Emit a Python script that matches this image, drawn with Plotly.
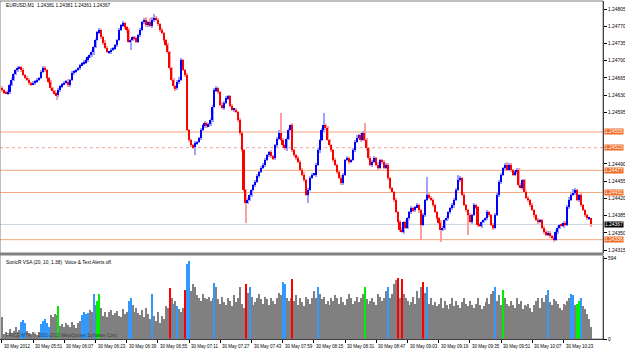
import plotly.graph_objects as go

# ---------------- data (prices in points above 1.24000) ----------------
header_text = "EURUSD,M1  1.24381 1.24381 1.24361 1.24367"
indicator_text = "SonicR VSA (20, 10, 1.38)  Voice & Text Alerts off."
footer_text = "PRICE MT4, \u00a9 2001-2012 MetaQuotes Software Corp."

first_open_pts = 645
close_pts = [
    640, 636, 634, 636, 650, 661, 673, 681, 685, 687,
    681, 671, 665, 661, 655, 652, 655, 657, 661, 665,
    677, 685, 681, 665, 657, 644, 638, 634, 630, 640,
    648, 652, 655, 657, 650, 661, 675, 677, 681, 685,
    691, 695, 697, 701, 707, 711, 717, 728, 742, 758,
    762, 748, 736, 726, 717, 717, 722, 724, 732, 742,
    762, 772, 776, 768, 762, 738, 742, 748, 746, 738,
    752, 762, 778, 783, 772, 778, 770, 783, 787, 783,
    774, 762, 756, 742, 732, 717, 685, 661, 648, 644,
    657, 661, 701, 681, 671, 559, 539, 528, 524, 532,
    534, 543, 559, 569, 573, 567, 571, 579, 606, 640,
    644, 636, 610, 604, 614, 624, 628, 608, 600, 600,
    596, 579, 553, 518, 437, 411, 417, 427, 437, 447,
    453, 466, 474, 482, 488, 498, 508, 514, 506, 502,
    528, 541, 553, 539, 528, 522, 541, 559, 569, 518,
    508, 502, 494, 478, 468, 457, 427, 437, 462, 468,
    468, 488, 518, 539, 559, 569, 563, 539, 528, 518,
    498, 488, 474, 462, 451, 468, 498, 502, 494, 498,
    518, 535, 543, 549, 539, 553, 539, 522, 502, 488,
    494, 502, 488, 482, 498, 494, 482, 488, 462, 441,
    433, 417, 392, 372, 356, 352, 372, 360, 380, 392,
    400, 396, 402, 406, 396, 366, 386, 417, 427, 421,
    417, 406, 392, 380, 370, 356, 360, 376, 380, 392,
    400, 406, 417, 437, 457, 462, 427, 406, 396, 386,
    372, 386, 406, 402, 366, 364, 372, 376, 380, 392,
    386, 366, 360, 386, 427, 453, 468, 482, 488, 478,
    488, 478, 468, 474, 478, 447, 441, 457, 433, 421,
    417, 406, 396, 386, 376, 372, 376, 360, 352, 346,
    350, 344, 340, 335, 352, 360, 366, 364, 370, 366,
    402, 417, 427, 431, 437, 417, 427, 406, 396, 386,
    380, 381, 367,
]
hi_ext = [
    4, 3, 2, 5, 3, 4, 2, 3, 4, 3,  3, 5, 2, 4, 3, 2, 4, 3, 3, 2,
    3, 4, 5, 3, 2, 4, 3, 2, 3, 4,  3, 2, 4, 3, 5, 2, 3, 4, 2, 3,
    3, 2, 4, 3, 2, 3, 5, 2, 4, 3,  4, 3, 2, 5, 3, 2, 4, 3, 2, 3,
    4, 3, 5, 2, 3, 4, 2, 3, 3, 2,  3, 4, 2, 3, 5, 3, 8, 6, 8, 3,
    4, 3, 5, 2, 3, 4, 2, 3, 4, 3,  3, 5, 4, 3, 2, 4, 3, 2, 3, 4,
    3, 2, 4, 3, 5, 3, 2, 4, 3, 5,  4, 3, 2, 5, 3, 4, 2, 3, 4, 3,
    3, 2, 4, 3, 2, 3, 4, 2, 3, 3,  4, 3, 2, 4, 3, 5, 2, 3, 4, 3,
    3, 4, 6, 41, 3, 2, 4, 5, 3, 4,  3, 2, 4, 3, 3, 5, 2, 4, 3, 3,
    4, 3, 5, 2, 4, 25, 3, 4, 2, 3,  3, 4, 2, 3, 5, 3, 2, 4, 3, 3,
    4, 3, 5, 2, 3, 4, 20, 3, 2, 4,  3, 4, 2, 5, 3, 2, 4, 3, 3, 2,
    3, 2, 4, 3, 3, 5, 2, 4, 3, 3,  4, 3, 2, 5, 3, 3, 4, 2, 36, 3,
    3, 4, 2, 3, 3, 5, 3, 2, 4, 3,  3, 4, 3, 5, 10, 3, 2, 4, 3, 3,
    4, 3, 5, 2, 3, 4, 2, 3, 3, 4,  3, 2, 4, 5, 3, 4, 3, 2, 4, 6,
    3, 4, 2, 3, 4, 3, 5, 2, 3, 4,  3, 2, 4, 3, 3, 4, 2, 3, 3, 4,
    3, 4, 2, 3, 4, 3, 2, 4, 3, 3,  4, 5, 3, 8, 4, 3, 2, 4, 3, 3,
    2, 0, 0,
]
lo_ext = [
    3, 4, 2, 3, 4, 2, 3, 3, 4, 2,  4, 3, 2, 3, 5, 3, 2, 4, 3, 3,
    2, 3, 4, 3, 5, 3, 2, 4, 10, 3,  3, 4, 2, 3, 3, 4, 2, 5, 3, 3,
    4, 2, 3, 3, 4, 2, 3, 5, 3, 2,  3, 4, 5, 3, 2, 4, 3, 3, 2, 4,
    3, 2, 4, 3, 5, 3, 16, 3, 4, 2,  3, 4, 2, 3, 4, 3, 2, 3, 4, 3,
    4, 3, 2, 5, 3, 4, 3, 2, 4, 5,  3, 4, 2, 3, 4, 3, 5, 3, 4, 16,
    3, 2, 4, 3, 5, 3, 2, 4, 3, 3,  4, 3, 2, 3, 5, 3, 4, 2, 3, 4,
    3, 4, 5, 3, 4, 41, 3, 2, 4, 3,  3, 2, 4, 3, 3, 5, 2, 4, 3, 3,
    4, 3, 2, 3, 4, 3, 5, 2, 3, 4,  3, 4, 2, 3, 3, 4, 3, 16, 3, 2,
    3, 4, 2, 5, 3, 4, 3, 2, 4, 3,  4, 3, 5, 2, 3, 4, 3, 2, 4, 3,
    3, 4, 2, 3, 4, 3, 2, 5, 3, 3,  4, 3, 2, 4, 3, 5, 3, 2, 4, 3,
    3, 4, 2, 3, 4, 3, 5, 3, 2, 4,  3, 4, 3, 2, 5, 30, 3, 4, 2, 3,
    3, 4, 2, 5, 3, 25, 3, 4, 2, 3,  4, 3, 5, 2, 3, 4, 3, 2, 3, 40,
    3, 4, 2, 3, 5, 3, 4, 3, 2, 3,  4, 3, 5, 3, 2, 4, 3, 3, 4, 2,
    3, 4, 2, 3, 5, 3, 2, 4, 3, 3,  4, 3, 2, 5, 3, 4, 3, 2, 4, 3,
    3, 4, 5, 3, 2, 4, 3, 3, 4, 2,  3, 4, 2, 3, 5, 3, 4, 3, 2, 3,
    4, 3, 6,
]
volumes = [
    160, 40, 55, 30, 70, 45, 60, 85, 50, 65,
    125, 140, 120, 60, 45, 35, 55, 40, 30, 50,
    110, 135, 150, 120, 90, 175, 160, 180, 175, 240,
    95, 110, 85, 120, 100, 90, 125, 105, 80, 115,
    130, 175, 195, 180, 190, 210, 200, 330, 250, 280,
    330, 225, 170, 200, 160, 195, 215, 175, 190, 205,
    170, 160, 220, 180, 200, 280, 300, 250, 200, 230,
    190, 175, 210, 160, 225, 180, 150, 330, 170, 135,
    195, 120, 170, 150, 240, 230, 375, 300, 260, 280,
    240, 220, 200, 230, 360, 550, 570, 350, 400, 380,
    320, 300, 280, 330, 300, 290, 310, 280, 300, 410,
    380, 290, 260, 310, 270, 250, 300, 280, 240, 320,
    270, 300, 380, 260, 230, 400, 340, 380, 310, 250,
    270, 300, 330, 290, 260, 310, 290, 250, 300, 280,
    260, 300, 340, 320, 420, 400, 300, 280, 300, 440,
    280, 320, 250, 300, 270, 240, 310, 290, 260, 300,
    350, 300, 380, 330, 290, 310, 260, 280, 250, 300,
    280, 320, 300, 260, 310, 270, 250, 290, 330, 300,
    260, 280, 310, 270, 300, 330, 380, 290, 260, 280,
    300, 270, 250, 330, 310, 280, 300, 350, 380, 300,
    330, 400, 430, 450, 300, 440, 330, 300, 280, 250,
    270, 310, 260, 350, 300, 380, 420, 340, 380, 260,
    300, 250, 270, 240, 260, 300, 230, 280, 250, 220,
    260, 300, 240, 280, 250, 230, 270, 300, 260, 240,
    280, 250, 230, 260, 300, 250, 220, 240, 270, 300,
    260, 330, 350, 380, 280, 320, 250, 360, 300, 260,
    240, 280, 250, 230, 300, 260, 280, 220, 250, 240,
    260, 230, 200, 250, 280, 300, 230, 300, 270, 320,
    360, 270, 250, 290, 280, 260, 230, 210, 260, 250,
    280, 300, 330, 320, 250, 260, 280, 300, 240, 220,
    180, 150, 90,
]
blue_idx = [10, 11, 12, 20, 21, 22, 23, 24, 41, 42, 43, 44, 47, 65, 66, 77, 88, 90,
            95, 96, 109, 127, 144, 145, 162, 198, 218, 253, 280, 292, 293, 297]
green_idx = [29, 49, 50, 186, 257, 295, 296]
red_idx = [86, 94, 125, 149, 203, 205, 216]

time_labels = ["30 May 2012", "30 May 05:51", "30 May 06:07", "30 May 06:23", "30 May 06:39",
               "30 May 06:55", "30 May 07:11", "30 May 07:27", "30 May 07:43", "30 May 07:59",
               "30 May 08:15", "30 May 08:31", "30 May 08:47", "30 May 09:03", "30 May 09:19",
               "30 May 09:35", "30 May 09:51", "30 May 10:07", "30 May 10:23"]
label_step = 16

price_ticks = [1.24805, 1.24770, 1.24735, 1.24700, 1.24665, 1.24630, 1.24595,
               1.24490, 1.24455, 1.24420, 1.24385, 1.24350, 1.24315]
level_prices = [1.24555, 1.24523, 1.24477, 1.24432, 1.24336]
level_dotted = [False, True, False, False, False]
last_price = 1.24367
vol_max = 594

# ---------------- derived ----------------
n = len(close_pts)
idx = list(range(n))
closes = [1.24 + p / 1e5 for p in close_pts]
opens = [1.24 + first_open_pts / 1e5] + closes[:-1]
highs = [max(o, c) + h / 1e5 for o, c, h in zip(opens, closes, hi_ext)]
lows = [min(o, c) - l / 1e5 for o, c, l in zip(opens, closes, lo_ext)]
up = [c >= o for o, c in zip(opens, closes)]

body_base = [min(o, c) for o, c in zip(opens, closes)]
body_h = [max(abs(c - o), 0.000025) for o, c in zip(opens, closes)]
body_col = ["#0000FF" if u else "#FF0000" for u in up]
wick_col = ["#A0A0FF" if u else "#FFA0A0" for u in up]

vol_col = []
for i in idx:
    if i in blue_idx:
        vol_col.append("#3399FF")
    elif i in green_idx:
        vol_col.append("#00EE00")
    elif i in red_idx:
        vol_col.append("#FF0000")
    else:
        vol_col.append("#808080")

W, H = 625, 352
ml, mr, mt, mb = 0, 22, 1, 13
pw = W - ml - mr
ph = H - mt - mb


def py(p):  # pixel y -> paper
    return (H - mb - p) / ph


x_range = [-1, pw / 1.95 - 1]
y_range = [1.243089, 1.248213]

fig = go.Figure()
fig.add_trace(go.Bar(x=idx, y=[h - l for h, l in zip(highs, lows)], base=lows,
                     marker=dict(color=wick_col, line=dict(width=0)), width=0.55,
                     xaxis="x", yaxis="y", hoverinfo="skip"))
fig.add_trace(go.Bar(x=idx, y=body_h, base=body_base,
                     marker=dict(color=body_col, line=dict(width=0)), width=0.8,
                     xaxis="x", yaxis="y", hoverinfo="skip"))
fig.add_trace(go.Bar(x=idx, y=volumes, marker=dict(color=vol_col, line=dict(width=0)),
                     width=0.55, xaxis="x2", yaxis="y2", hoverinfo="skip"))

FAM = "Liberation Sans"
font_small = dict(family=FAM, size=4.8, color="#000000")
font_axis = dict(family=FAM, size=4.9, color="#000000")

shapes = []
for p, dotted in zip(level_prices, level_dotted):
    shapes.append(dict(type="line", xref="paper", yref="y", x0=0, x1=1, y0=p, y1=p,
                       line=dict(color="#F5A57A" if not dotted else "#F5A0A0", width=1,
                                 dash="dot" if dotted else "solid"), layer="below"))
shapes.append(dict(type="line", xref="paper", yref="y", x0=0, x1=1, y0=last_price, y1=last_price,
                   line=dict(color="#C8D4E0", width=1), layer="below"))
# separator between panels
shapes.append(dict(type="rect", xref="paper", yref="paper", x0=0, x1=1, y0=py(255.5), y1=py(252.5),
                   fillcolor="#808080", line=dict(width=0)))
# frame
shapes.append(dict(type="rect", xref="paper", yref="paper", x0=0, x1=1, y0=0, y1=1,
                   line=dict(color="#808080", width=1), fillcolor="rgba(0,0,0,0)"))

annotations = [
    dict(text=header_text, xref="paper", yref="paper", x=4 / pw, y=py(6), xanchor="left",
         yanchor="middle", showarrow=False, font=font_small),
    dict(text=indicator_text, xref="paper", yref="paper", x=4 / pw, y=py(262), xanchor="left",
         yanchor="middle", showarrow=False, font=font_small),
    dict(text=footer_text, xref="paper", yref="paper", x=4 / pw, y=py(335), xanchor="left",
         yanchor="middle", showarrow=False, font=dict(family=FAM, size=4.6, color="#404040")),
]
for k, t in enumerate(time_labels):
    annotations.append(dict(text=t, xref="x2", yref="paper", x=k * label_step, y=py(346),
                            xanchor="left", yanchor="middle", showarrow=False, xshift=0,
                            font=dict(family=FAM, size=4.5, color="#000000")))
for p in level_prices:
    annotations.append(dict(text=f"{p:.5f}", xref="paper", yref="y", x=1, y=p, xanchor="left",
                            yanchor="middle", showarrow=False, xshift=1, bgcolor="#F06A28",
                            borderpad=0, font=dict(family=FAM, size=4.9, color="#FFFFFF")))
annotations.append(dict(text=f"{last_price:.5f}", xref="paper", yref="y", x=1, y=last_price,
                        xanchor="left", yanchor="middle", showarrow=False, xshift=1, bgcolor="#000000",
                        borderpad=0, font=dict(family=FAM, size=4.9, color="#FFFFFF")))

fig.update_layout(
    width=W, height=H, margin=dict(l=ml, r=mr, t=mt, b=mb),
    paper_bgcolor="#FFFFFF", plot_bgcolor="#FFFFFF",
    showlegend=False, barmode="overlay", bargap=0,
    font=font_small,
    xaxis=dict(domain=[0, 1], range=x_range, anchor="y", visible=False, showgrid=False),
    xaxis2=dict(domain=[0, 1], range=x_range, anchor="y2", showgrid=False, zeroline=False,
                tickvals=[k * label_step for k in range(len(time_labels))], ticks="outside",
                ticklen=3, tickcolor="#000000", showticklabels=False, showline=True,
                linecolor="#000000", linewidth=1),
    yaxis=dict(domain=[py(253), 1], range=y_range, side="right", anchor="x", showgrid=False,
               zeroline=False, tickvals=price_ticks, ticktext=[f"{p:.5f}" for p in price_ticks],
               ticks="outside", ticklen=3, tickcolor="#000000", tickfont=font_axis,
               showline=True, linecolor="#000000", linewidth=1),
    yaxis2=dict(domain=[0, py(256)], range=[0, vol_max * 83 / 81], side="right", anchor="x2",
                showgrid=False, zeroline=False, tickvals=[vol_max, 0], ticktext=[str(vol_max), "0"],
                ticks="outside", ticklen=3, tickcolor="#000000", tickfont=font_axis,
                showline=True, linecolor="#000000", linewidth=1),
    shapes=shapes, annotations=annotations,
)

fig.write_html("out.html")
